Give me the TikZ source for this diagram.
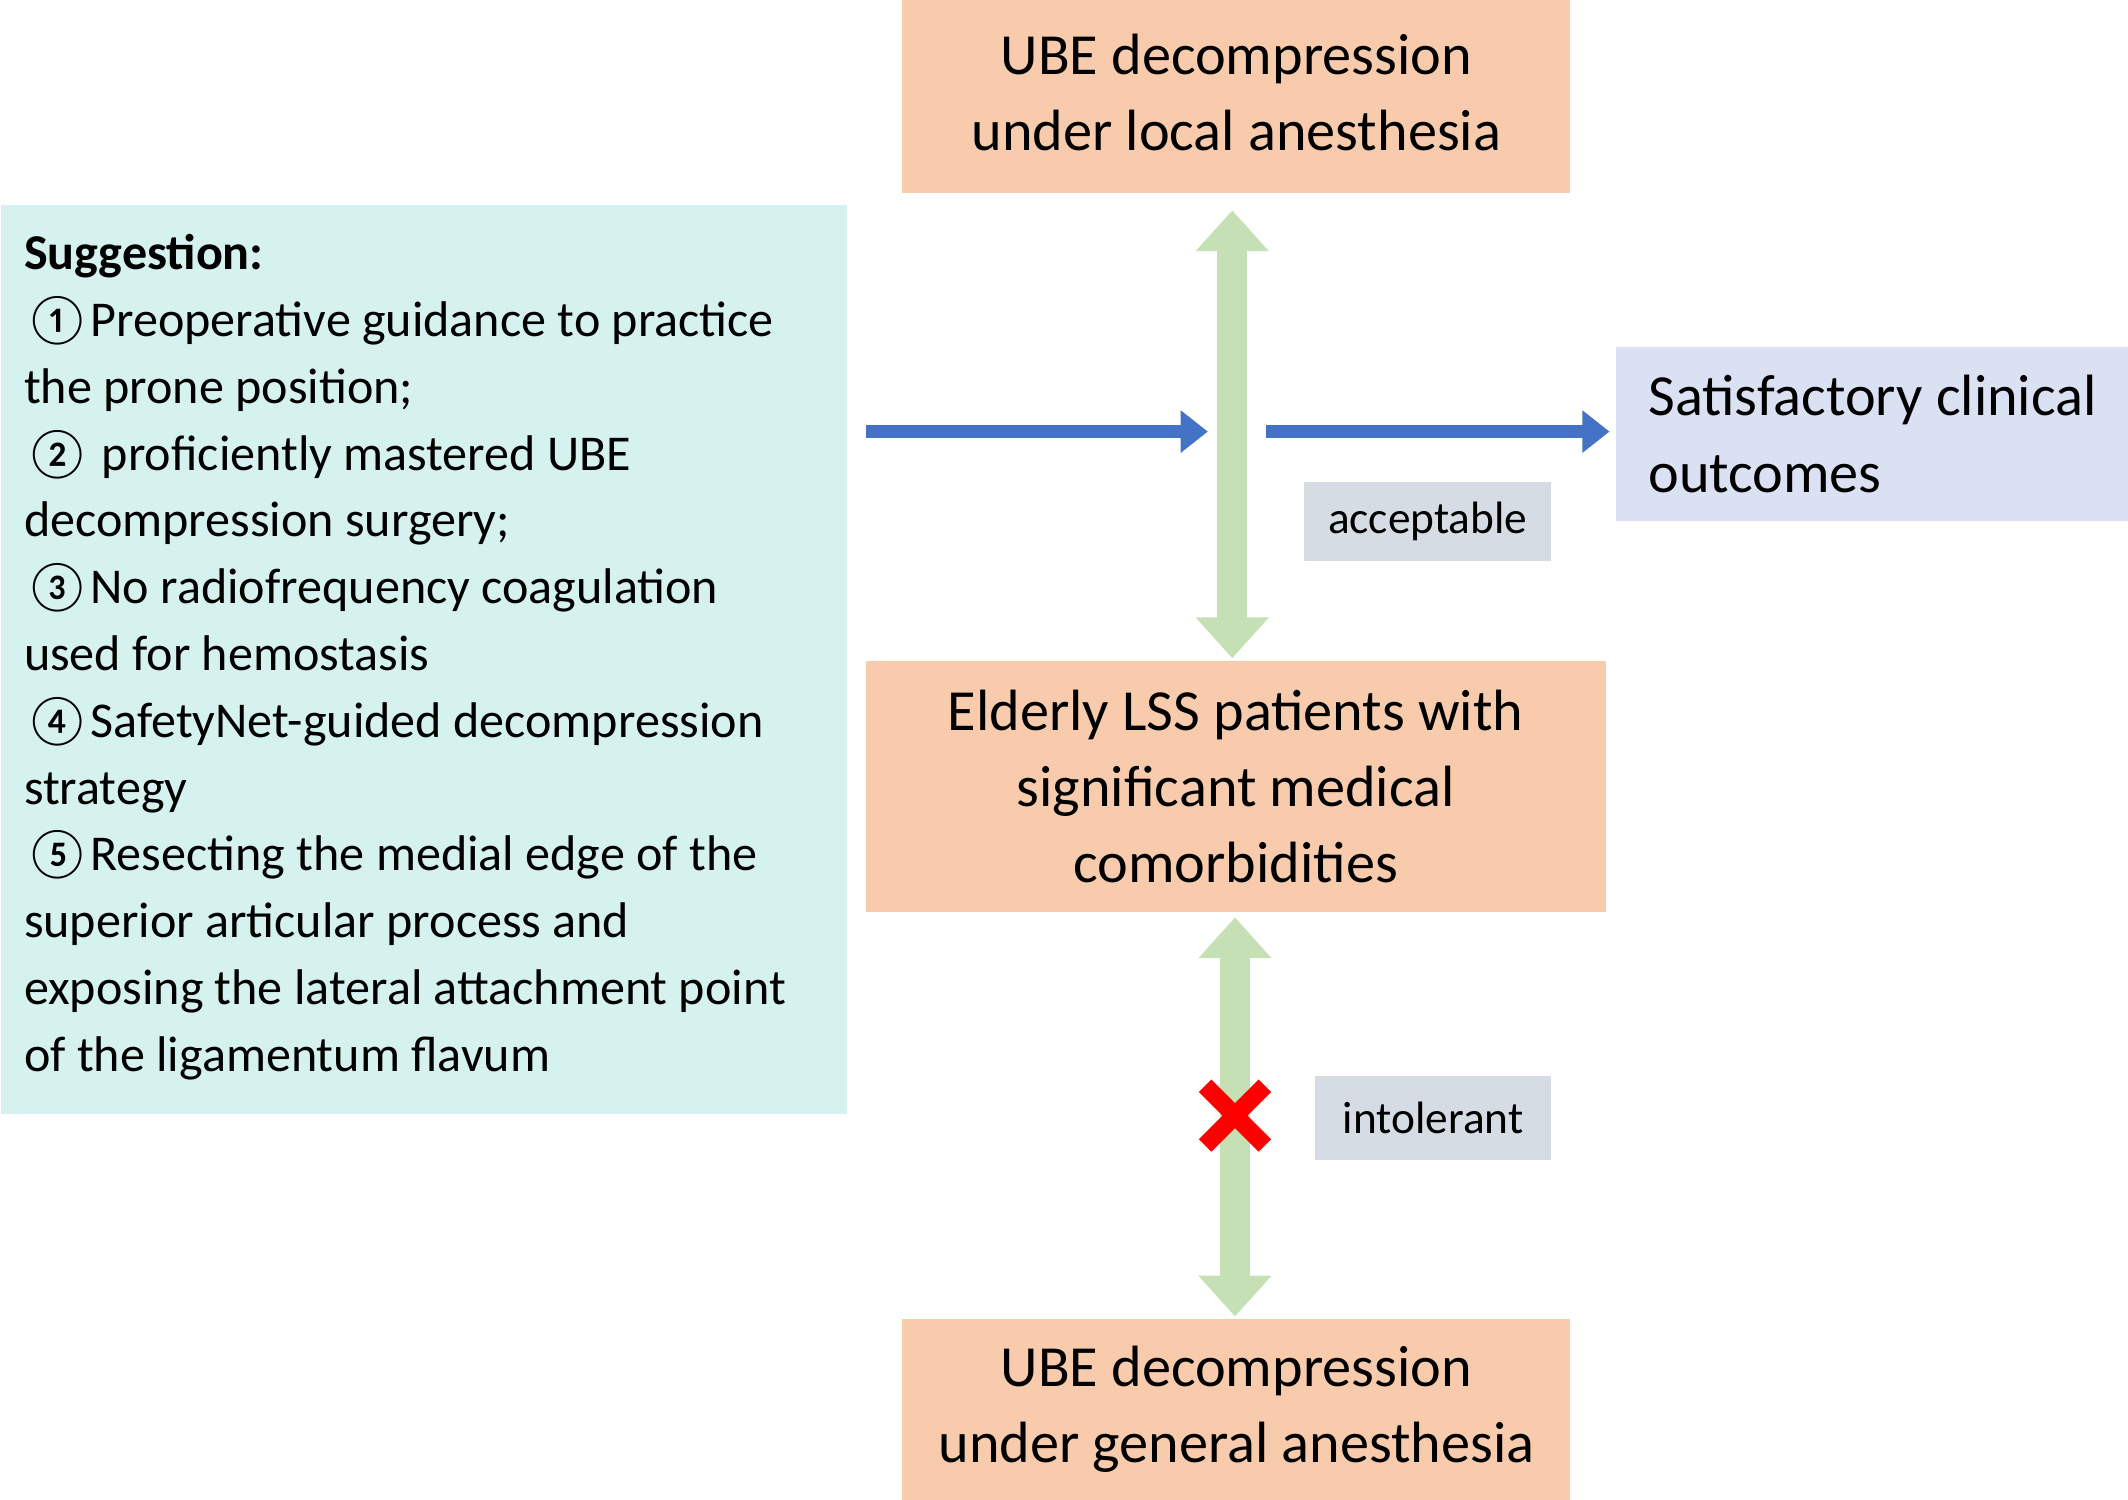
\documentclass[tikz,border=0pt]{standalone}
\usepackage{fontspec}
\setmainfont{Carlito}
\usetikzlibrary{arrows.meta,calc}
\definecolor{peach}{HTML}{F8CBAD}
\definecolor{mint}{HTML}{D5F2EF}
\definecolor{lav}{HTML}{DAE1F3}
\definecolor{gray1}{HTML}{D6DCE4}
\definecolor{green1}{HTML}{C5E0B4}
\definecolor{blue1}{HTML}{4472C4}
\begin{document}
\begin{tikzpicture}[x=0.01cm,y=-0.01cm,
  box/.style={fill=peach,draw=none,align=center,inner sep=0pt,font=\fontsize{12.2}{16}\selectfont},
  lab/.style={fill=gray1,draw=none,inner sep=0pt,font=\fontsize{9.5}{11}\selectfont},
  garrow/.style={draw=green1,line width=0.22cm,{Triangle[width=0.52cm,length=0.3cm]}-{Triangle[width=0.52cm,length=0.3cm]}},
  barrow/.style={draw=blue1,line width=0.1cm,-{Triangle[width=0.3cm,length=0.2cm]}}]
\useasboundingbox (0,0) rectangle (1568,1105);
\node[box,minimum width=4.92cm,minimum height=1.48cm] (top) at (911,68) {UBE decompression\\under local anesthesia};
\node[box,minimum width=5.45cm,minimum height=1.85cm] (mid) at (910.5,579.5) {Elderly LSS patients with\\significant medical\\comorbidities};
\node[box,minimum width=4.92cm,minimum height=1.33cm] (bot) at (911,1038.5) {UBE decompression\\under general anesthesia};
\node[fill=lav,draw=none,align=left,anchor=north west,minimum width=3.78cm,minimum height=1.28cm,inner xsep=0.16cm,inner ysep=0pt,font=\fontsize{12.2}{16}\selectfont] (sat) at (1190,255) {Satisfactory clinical\\outcomes};
\node[fill=mint,draw=none,anchor=north west,minimum width=6.23cm,minimum height=6.7cm,inner sep=0pt] (sug) at (0,150) {};
\node[anchor=north west,align=left,inner sep=0pt,font=\fontsize{10.5}{14}\selectfont] (sugt) at (17,172) {\textbf{Suggestion:}\\
①Preoperative guidance to practice\\the prone position;\\② proficiently mastered UBE\\decompression surgery;\\③No radiofrequency coagulation\\used for hemostasis\\④SafetyNet-guided decompression\\strategy\\⑤Resecting the medial edge of the\\superior articular process and\\exposing the lateral attachment point\\of the ligamentum flavum};
\node[lab,minimum width=1.82cm,minimum height=0.58cm] (acc) at (1052,384) {acceptable};
\node[lab,minimum width=1.74cm,minimum height=0.62cm] (int) at (1056,824) {intolerant};
\coordinate (g1) at (908,155); \coordinate (g2) at (908,485);
\coordinate (g3) at (910,676); \coordinate (g4) at (910,970);
\draw[garrow] (g1) -- (g2);
\draw[garrow] (g3) -- (g4);
\coordinate (b1) at (638,318); \coordinate (b2) at (890,318);
\coordinate (b3) at (933,318); \coordinate (b4) at (1186,318);
\draw[barrow] (b1) -- (b2);
\draw[barrow] (b3) -- (b4);
\coordinate (x) at (910,822);
\draw[red,line width=0.13cm] ($(x)+(-22,-22)$) -- ($(x)+(22,22)$) ($(x)+(-22,22)$) -- ($(x)+(22,-22)$);
\end{tikzpicture}
\end{document}
